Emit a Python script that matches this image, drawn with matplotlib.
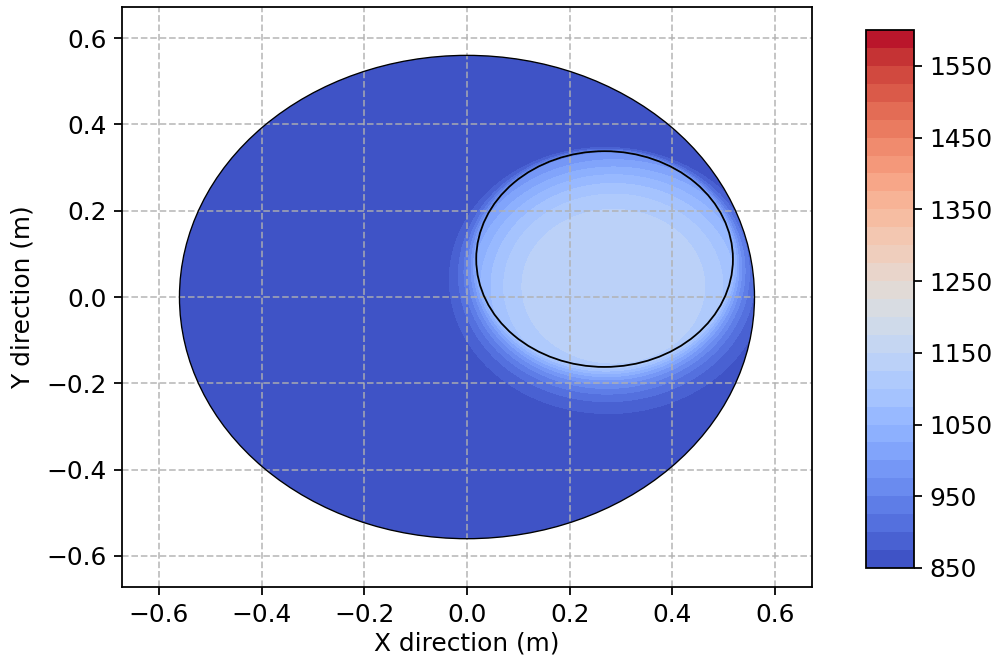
import numpy as np
import matplotlib
matplotlib.use('Agg')
import matplotlib.pyplot as plt
from matplotlib.patches import Circle

# ---- data / model parameters ----
outer_radius = 0.56
inner_center = (0.268, 0.088)
inner_radius = 0.25
hot_center = (0.285, 0.025)
T_base = 850.0
T_peak = 1148.0
profile_scale = 0.32
profile_power = 4.3
bleed_min = 0.006
bleed_extra = 0.055
levels = np.linspace(850, 1600, 31)
cbar_ticks = [850, 950, 1050, 1150, 1250, 1350, 1450, 1550]
axis_ticks = [-0.6, -0.4, -0.2, 0.0, 0.2, 0.4, 0.6]
axis_limit = 0.672

plt.rcParams['font.size'] = 11.2

# ---- temperature field ----
g = np.linspace(-outer_radius, outer_radius, 800)
X, Y = np.meshgrid(g, g)
d_hot = np.hypot(X - hot_center[0], Y - hot_center[1])
T_in = T_base + (T_peak - T_base) * np.exp(-(d_hot / profile_scale) ** profile_power)
dc = np.hypot(X - inner_center[0], Y - inner_center[1])
theta = np.arctan2(Y - inner_center[1], X - inner_center[0])
dout = np.clip(dc - inner_radius, 0, None)
L = bleed_min + bleed_extra * (1 - np.sin(theta)) / 2
T = T_base + (T_in - T_base) * np.exp(-dout / L)

fig = plt.figure(figsize=(994 / 160, 657 / 160), dpi=160)
ax = fig.add_axes([0.1227, 0.1065, 0.6942, 0.8828])
cax = fig.add_axes([0.871, 0.1355, 0.0485, 0.8188])

cs = ax.contourf(X, Y, T, levels=levels, cmap='coolwarm')
clip = Circle((0, 0), outer_radius, transform=ax.transData)
cs.set_clip_path(clip)
ax.add_patch(Circle((0, 0), outer_radius, fill=False, ec='black', lw=0.6, zorder=2))
ax.add_patch(Circle(inner_center, inner_radius, fill=False, ec='black', lw=0.8, zorder=2))

ax.set_xlim(-axis_limit, axis_limit)
ax.set_ylim(-axis_limit, axis_limit)
ax.set_xticks(axis_ticks)
ax.set_yticks(axis_ticks)
ax.grid(True, linestyle='--', color='#b0b0b0', alpha=0.8)
ax.set_xlabel('X direction (m)', labelpad=2)
ax.set_ylabel('Y direction (m)', labelpad=5)

fig.colorbar(cs, cax=cax, ticks=cbar_ticks)

fig.savefig('out.png', dpi=160)
